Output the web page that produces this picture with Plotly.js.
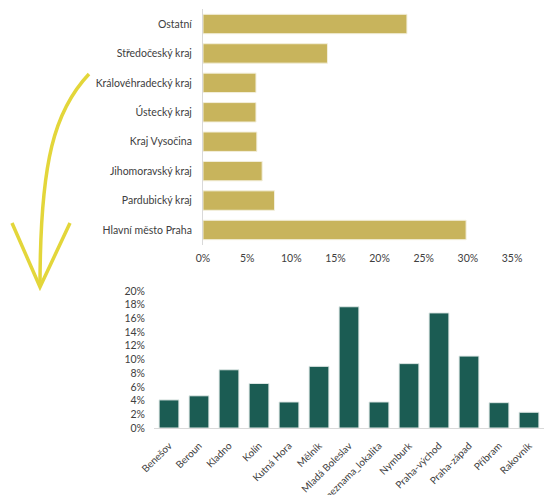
<!DOCTYPE html>
<html>
<head>
<meta charset="utf-8">
<script src="https://cdn.plot.ly/plotly-3.0.1.min.js"></script>
<style>html,body{margin:0;padding:0;background:#fff;}#chart{width:547px;height:495px;}</style>
</head>
<body>
<div id="chart"></div>
<script>
// Top chart: regions (bottom to top)
const regions = ["Hlavní město Praha", "Pardubický kraj", "Jihomoravský kraj", "Kraj Vysočina", "Ústecký kraj", "Královéhradecký kraj", "Středočeský kraj", "Ostatní"];
const regionShare = [29.8, 8.1, 6.7, 6.1, 6.0, 6.0, 14.1, 23.1];
const topTicks = [0, 5, 10, 15, 20, 25, 30, 35];

// Bottom chart: districts of Středočeský kraj
const districts = ["Benešov", "Beroun", "Kladno", "Kolín", "Kutná Hora", "Mělník", "Mladá Boleslav", "neznama_lokalita", "Nymburk", "Praha-východ", "Praha-západ", "Příbram", "Rakovník"];
const districtShare = [4.1, 4.7, 8.5, 6.5, 3.8, 9.0, 17.7, 3.8, 9.4, 16.8, 10.5, 3.7, 2.3];
const bottomTicks = [0, 2, 4, 6, 8, 10, 12, 14, 16, 18, 20];

const W = 547, H = 495;
const px = x => x / W;
const py = y => 1 - y / H;

const font = {family: "Lato, 'Open Sans', sans-serif", size: 10.5, color: "#404040"};
const xfont = {family: "Lato, 'Open Sans', sans-serif", size: 10, color: "#404040"};

const traces = [
  {
    type: "bar", orientation: "h",
    x: regionShare, y: regions,
    xaxis: "x", yaxis: "y",
    marker: {color: "#C8B45C", line: {color: "#f3efdc", width: 1}},
    hoverinfo: "x+y"
  },
  {
    type: "bar",
    x: districts, y: districtShare,
    xaxis: "x2", yaxis: "y2",
    marker: {color: "#1B5C53", line: {color: "#dfe8e6", width: 1}},
    hoverinfo: "x+y"
  }
];

const arrowColor = "#E3D63A";
const layout = {
  width: W, height: H,
  margin: {l: 0, r: 0, t: 0, b: 0},
  paper_bgcolor: "#fff", plot_bgcolor: "rgba(0,0,0,0)",
  showlegend: false,
  bargap: 0.34,
  font: font,
  xaxis: {
    domain: [px(203), px(512)], anchor: "y",
    range: [0, 35], tickvals: topTicks, ticktext: topTicks.map(v => v + "%"),
    showgrid: false, zeroline: false, showline: false, ticks: "",
    tickfont: font, ticklabelstandoff: 6, fixedrange: true
  },
  yaxis: {
    domain: [py(244.7), py(9.3)], anchor: "x",
    type: "category", range: [-0.5, 7.5],
    showgrid: false, zeroline: false, showline: true, linecolor: "#d9d9d9", linewidth: 1,
    ticks: "", tickfont: font, ticklabelstandoff: 8, fixedrange: true
  },
  xaxis2: {
    domain: [px(154), px(544)], anchor: "y2",
    type: "category", range: [-0.5, 12.5],
    showgrid: false, zeroline: false, showline: true, linecolor: "#d9d9d9", linewidth: 1,
    ticks: "", tickangle: -45, tickfont: xfont, ticklabelstandoff: 7, fixedrange: true
  },
  yaxis2: {
    domain: [py(428), py(291)], anchor: "x2",
    range: [0, 20], tickvals: bottomTicks, ticktext: bottomTicks.map(v => v + "%"),
    showgrid: false, zeroline: false, showline: false, ticks: "",
    tickfont: font, ticklabelstandoff: 8, fixedrange: true
  },
  shapes: [
    {type: "path", xref: "paper", yref: "paper",
     path: `M ${px(89)},${py(74)} C ${px(55)},${py(110)} ${px(40)},${py(160)} ${px(40)},${py(287)}`,
     line: {color: arrowColor, width: 3.5}},
    {type: "path", xref: "paper", yref: "paper",
     path: `M ${px(12)},${py(223)} L ${px(40)},${py(287)} L ${px(70)},${py(223)}`,
     line: {color: arrowColor, width: 3.5}}
  ]
};

Plotly.newPlot("chart", traces, layout, {displayModeBar: false, staticPlot: true});
</script>
</body>
</html>
